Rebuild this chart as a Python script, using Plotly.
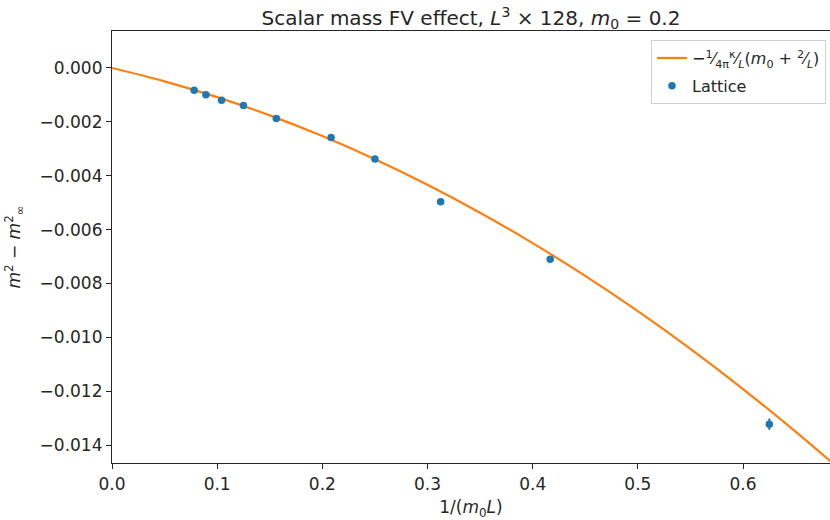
import plotly.graph_objects as go

# Lattice data: x = 1/(m0 L), y = m^2 - m_inf^2
lat_x = [0.078125, 0.089286, 0.104167, 0.125, 0.15625, 0.208333, 0.25, 0.3125, 0.416667, 0.625]
lat_y = [-0.000825, -0.000995, -0.001194, -0.001389, -0.001879, -0.002579, -0.003379, -0.004963, -0.007100, -0.013228]
lat_err = [0.00001, 0.00001, 0.00001, 0.00001, 0.00001, 0.00002, 0.00002, 0.00003, 0.00005, 0.00021]

# Analytic curve
curve_x = [0.0, 0.05, 0.1, 0.15, 0.2, 0.25, 0.3, 0.35, 0.4, 0.45, 0.5, 0.55, 0.6, 0.65, 0.7]
curve_y = [0.0, -0.000497, -0.001084, -0.001761, -0.002529, -0.003387, -0.004335, -0.005374,
           -0.006503, -0.007722, -0.009032, -0.010432, -0.011922, -0.013503, -0.015174]

x_ticks = [0.0, 0.1, 0.2, 0.3, 0.4, 0.5, 0.6]
y_ticks = [0.0, -0.002, -0.004, -0.006, -0.008, -0.010, -0.012, -0.014]

BLUE = "#1f77b4"
ORANGE = "#ff7f0e"
FONT = "DejaVu Sans"
TXT = "#262626"

fig = go.Figure()
fig.add_trace(go.Scatter(
    x=curve_x, y=curve_y, mode="lines", line=dict(color=ORANGE, width=2.2, shape="spline"),
    legendgroup="fit",
    name="−<sup>1</sup>⁄<sub>4π</sub><sup>κ</sup>⁄<sub><i>L</i></sub>(<i>m</i><sub>0</sub> + <sup>2</sup>⁄<sub><i>L</i></sub>)",
))
fig.add_trace(go.Scatter(
    x=lat_x, y=lat_y, mode="markers", name="Lattice", legendgroup="lat",
    marker=dict(color=BLUE, size=7.5),
    error_y=dict(type="data", array=lat_err, color=BLUE, thickness=2, width=0),
))

axis_common = dict(
    showgrid=False, zeroline=False, showline=True, linecolor=TXT, linewidth=1.2,
    ticks="outside", ticklen=5, tickwidth=1.2, tickcolor=TXT, automargin=False,
    tickfont=dict(family=FONT, size=17, color=TXT),
)

fig.update_layout(
    width=830, height=520,
    margin=dict(l=112, r=0, t=31, b=57, autoexpand=False),
    paper_bgcolor="white", plot_bgcolor="white",
    font=dict(family=FONT, color=TXT),
    title=dict(
        text="Scalar mass FV effect, <i>L</i><sup>3</sup> × 128, <i>m</i><sub>0</sub> = 0.2",
        x=0.5, xref="paper", xanchor="center", y=0.965, yref="container", yanchor="middle",
        font=dict(family=FONT, size=20, color=TXT),
    ),
    xaxis=dict(
        range=[0, 0.6827], tickvals=x_ticks, ticktext=[f"{v:.1f}" for v in x_ticks],
        mirror=True,
        title=dict(text="1/(<i>m</i><sub>0</sub><i>L</i>)", font=dict(family=FONT, size=17), standoff=10),
        **axis_common,
    ),
    yaxis=dict(
        range=[-0.014668, 0.001373], tickvals=y_ticks,
        ticktext=[("−" if v < 0 else "") + f"{abs(v):.3f}" for v in y_ticks],
        title=dict(text="<i>m</i><sup>2</sup> − <i>m</i><sup>2</sup><sub>∞</sub>", font=dict(family=FONT, size=17), standoff=14),
        **axis_common,
    ),
    legend=dict(
        x=0.9944, y=0.979, xanchor="right", yanchor="top",
        bgcolor="rgba(255,255,255,0.8)", bordercolor="#d0d0d0", borderwidth=1,
        font=dict(family=FONT, size=16, color=TXT),
        tracegroupgap=4,
    ),
    showlegend=True,
)

fig.write_html("out.html", config={"displayModeBar": False},
               post_script="document.body.style.margin='0';document.body.style.overflow='hidden';")
